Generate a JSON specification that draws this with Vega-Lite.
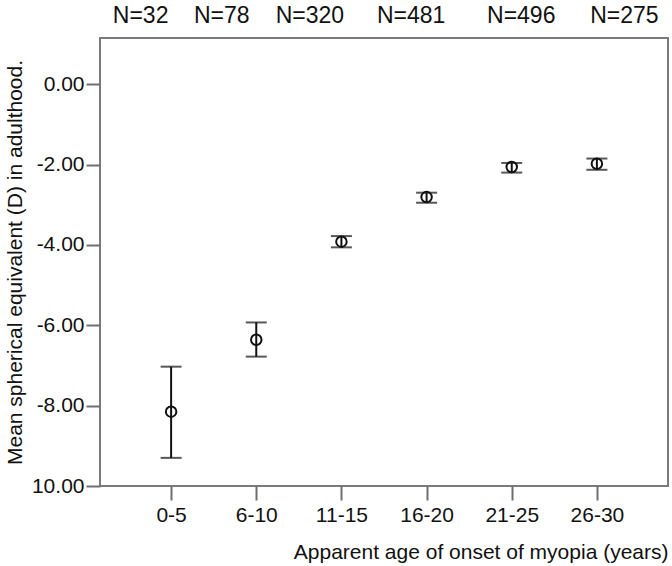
{
  "$schema": "https://vega.github.io/schema/vega-lite/v6.json",
  "autosize": "none",
  "width": 568,
  "height": 448,
  "padding": {"left": 100, "top": 38, "right": 4, "bottom": 80},
  "background": "white",
  "config": {
    "font": "Liberation Sans",
    "view": {"stroke": "#7a7a7a", "strokeWidth": 2},
    "axis": {"labelFont": "Liberation Sans", "titleFont": "Liberation Sans", "labelColor": "#111111", "titleColor": "#111111", "labelFontSize": 21, "titleFontSize": 21, "titleFontWeight": "normal", "grid": false, "domain": false, "tickColor": "#6e6e6e", "tickWidth": 2}
  },
  "data": {
    "values": [
      {"age": "0-5", "n": "N=32", "mean": -8.15, "lo": -9.3, "hi": -7.03},
      {"age": "6-10", "n": "N=78", "mean": -6.36, "lo": -6.78, "hi": -5.93},
      {"age": "11-15", "n": "N=320", "mean": -3.92, "lo": -4.06, "hi": -3.78},
      {"age": "16-20", "n": "N=481", "mean": -2.81, "lo": -2.95, "hi": -2.7},
      {"age": "21-25", "n": "N=496", "mean": -2.06, "lo": -2.2, "hi": -1.96},
      {"age": "26-30", "n": "N=275", "mean": -1.98, "lo": -2.13, "hi": -1.85}
    ]
  },
  "resolve": {"axis": {"x": "independent"}},
  "layer": [
    {
      "mark": {"type": "rule", "color": "#111111", "strokeWidth": 2},
      "encoding": {
        "x": {"field": "age", "type": "ordinal", "sort": null, "scale": {"type": "point", "padding": 0.835},
          "axis": {"orient": "bottom", "labelAngle": 0, "tickSize": 14, "labelPadding": 4, "title": "Apparent age of onset of myopia (years)", "titleAnchor": "end", "titlePadding": 16}},
        "y": {"field": "lo", "type": "quantitative", "scale": {"domain": [-10, 1.15], "nice": false, "zero": false},
          "axis": {"values": [0, -2, -4, -6, -8, -10], "tickSize": 14, "labelPadding": 2, "title": "Mean spherical equivalent (D) in adulthood.", "titlePadding": 6,
            "labelExpr": "datum.value == -10 ? '10.00' : (datum.value == 0 ? '0.00' : '-' + format(abs(datum.value), '.2f'))"}},
        "y2": {"field": "hi"}
      }
    },
    {
      "mark": {"type": "tick", "color": "#111111", "size": 21, "thickness": 2, "orient": "horizontal"},
      "encoding": {
        "x": {"field": "age", "type": "ordinal", "sort": null, "axis": null},
        "y": {"field": "lo", "type": "quantitative"}
      }
    },
    {
      "mark": {"type": "tick", "color": "#111111", "size": 21, "thickness": 2, "orient": "horizontal"},
      "encoding": {
        "x": {"field": "age", "type": "ordinal", "sort": null, "axis": null},
        "y": {"field": "hi", "type": "quantitative"}
      }
    },
    {
      "mark": {"type": "point", "shape": "circle", "filled": false, "color": "#111111", "strokeWidth": 2, "size": 110, "opacity": 1},
      "encoding": {
        "x": {"field": "age", "type": "ordinal", "sort": null,
          "axis": {"orient": "top", "ticks": false, "title": null, "labelAngle": 0, "labelPadding": 11, "labelFontSize": 23,
            "labelExpr": "datum.value == '0-5' ? 'N=32' : datum.value == '6-10' ? 'N=78' : datum.value == '11-15' ? 'N=320' : datum.value == '16-20' ? 'N=481' : datum.value == '21-25' ? 'N=496' : 'N=275'",
            "labelOffset": {"condition": [
              {"test": "datum.value == '0-5'", "value": -31},
              {"test": "datum.value == '6-10'", "value": -35},
              {"test": "datum.value == '11-15'", "value": -32},
              {"test": "datum.value == '16-20'", "value": -16},
              {"test": "datum.value == '21-25'", "value": 9}
            ], "value": 27}}},
        "y": {"field": "mean", "type": "quantitative"}
      }
    }
  ]
}
